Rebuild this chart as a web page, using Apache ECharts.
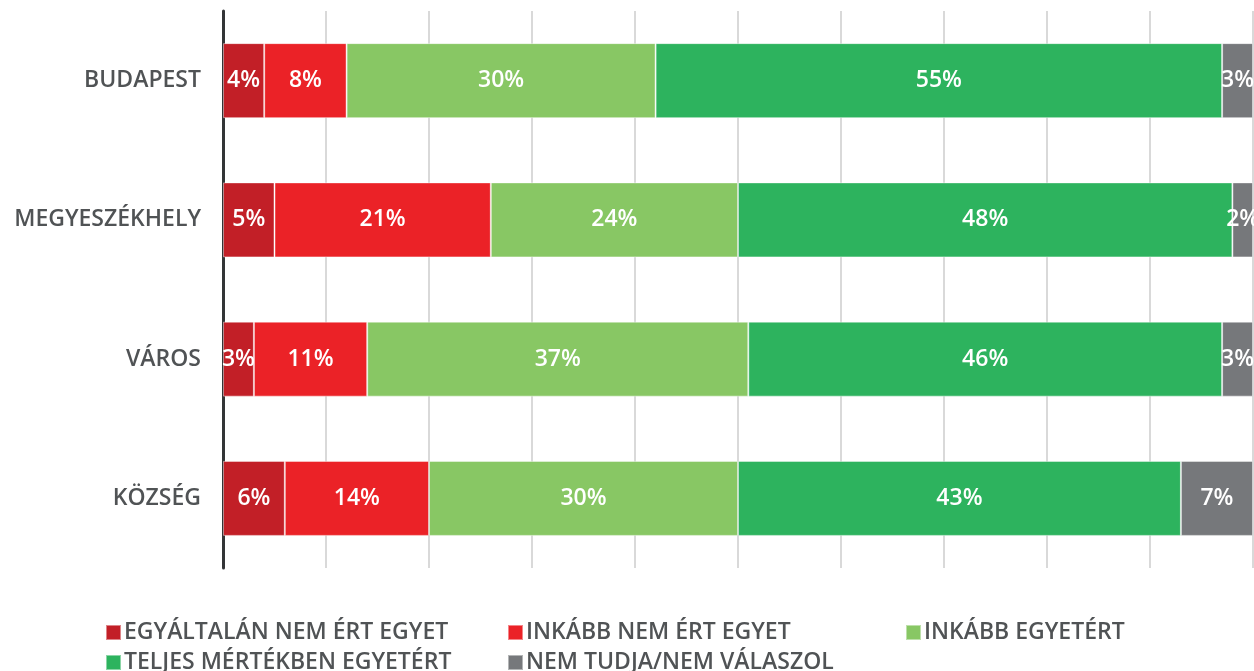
<!DOCTYPE html>
<html>
<head>
<meta charset="utf-8">
<script src="https://cdn.jsdelivr.net/npm/echarts@6/dist/echarts.min.js"></script>
<style>
  html, body { margin: 0; padding: 0; background: #fff; }
  #chart { width: 1254px; height: 671px; }
</style>
</head>
<body>
<div id="chart"></div>
<script>
// Settlement types (top to bottom)
const categories = ['BUDAPEST', 'MEGYESZÉKHELY', 'VÁROS', 'KÖZSÉG'];

// Answer shares in percent, one array per answer option
const seriesNames = [
  'EGYÁLTALÁN NEM ÉRT EGYET',
  'INKÁBB NEM ÉRT EGYET',
  'INKÁBB EGYETÉRT',
  'TELJES MÉRTÉKBEN EGYETÉRT',
  'NEM TUDJA/NEM VÁLASZOL'
];
const notAtAll = [4, 5, 3, 6];
const ratherNot = [8, 21, 11, 14];
const ratherYes = [30, 24, 37, 30];
const fully = [55, 48, 46, 43];
const dontKnow = [3, 2, 3, 7];

const seriesValues = [notAtAll, ratherNot, ratherYes, fully, dontKnow];
const colors = ['#C21F27', '#EB2227', '#88C764', '#2DB35E', '#76787B'];

const FONT = '"Open Sans", "DejaVu Sans", sans-serif';
const chart = echarts.init(document.getElementById('chart'), null, { renderer: 'canvas' });

const series = seriesNames.map((name, i) => ({
  name,
  type: 'bar',
  stack: 'total',
  barWidth: 75,
  data: seriesValues[i],
  itemStyle: {
    color: colors[i],
    borderColor: 'rgba(255,255,255,0.45)',
    borderWidth: 1
  },
  label: {
    show: true,
    position: 'inside',
    formatter: '{c}%',
    color: '#fff',
    fontFamily: FONT,
    fontWeight: 600,
    fontSize: 23
  },
  emphasis: { disabled: true }
}));

// Legend placed as a two-row, three-column grid
const legendPos = [
  { left: 105, top: 621 },
  { left: 507, top: 621 },
  { left: 905, top: 621 },
  { left: 105, top: 651 },
  { left: 507, top: 651 }
];
const legends = seriesNames.map((name, i) => ({
  data: [name],
  left: legendPos[i].left,
  top: legendPos[i].top,
  padding: 0,
  icon: 'rect',
  itemWidth: 15,
  itemHeight: 15,
  selectedMode: false,
  textStyle: {
    color: '#505355',
    fontFamily: FONT,
    fontWeight: 600,
    fontSize: 23,
    padding: [0, 0, 0, -2]
  }
}));

chart.setOption({
  animation: false,
  backgroundColor: '#ffffff',
  color: colors,
  grid: { left: 223, right: 1, top: 11, bottom: 103, containLabel: false },
  legend: legends,
  xAxis: {
    type: 'value',
    min: 0,
    max: 100,
    interval: 10,
    axisLabel: { show: false },
    axisLine: { show: false },
    axisTick: { show: false },
    splitLine: { show: true, lineStyle: { color: '#D9D9D9', width: 2 } }
  },
  yAxis: {
    type: 'category',
    data: categories,
    inverse: true,
    axisTick: { show: false },
    axisLine: { show: true, lineStyle: { color: '#333537', width: 3 } },
    axisLabel: {
      margin: 22,
      color: '#505355',
      fontFamily: FONT,
      fontWeight: 600,
      fontSize: 23
    }
  },
  series
});
</script>
</body>
</html>
